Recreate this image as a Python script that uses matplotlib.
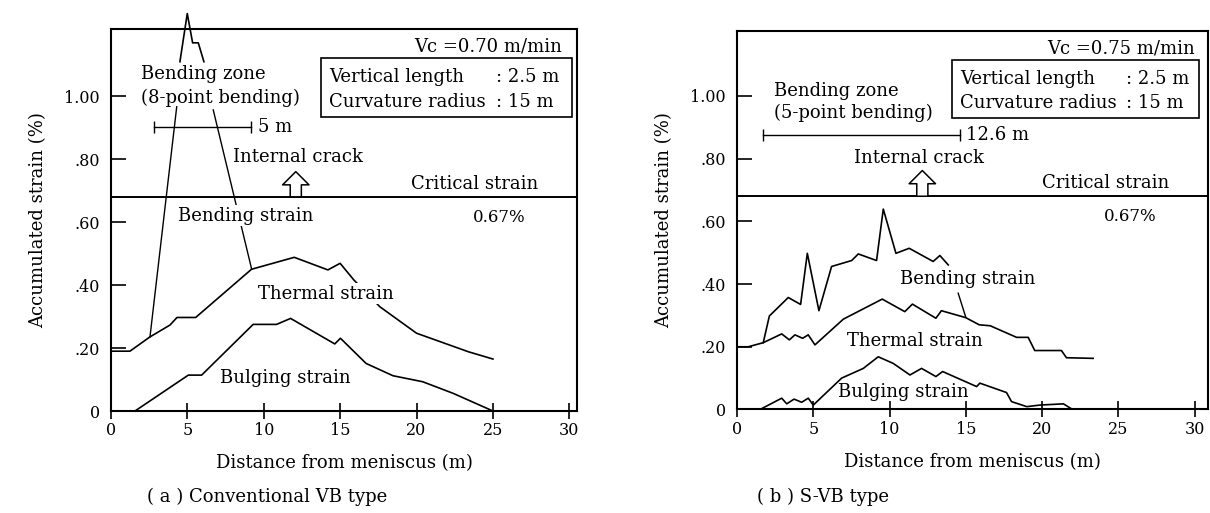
import matplotlib
matplotlib.use("Agg")
import matplotlib.pyplot as plt

plt.rcParams['font.family'] = ['DejaVu Serif']

# (a) Conventional VB type
a_thermal_x = [0, 1.25, 2.55, 3.87, 4.33, 5.55, 9.2, 12.0, 14.2, 15.0, 15.9, 17.6, 20.0, 23.4, 25.0]
a_thermal_y = [0.19, 0.19, 0.235, 0.273, 0.297, 0.297, 0.45, 0.488, 0.448, 0.469, 0.416, 0.331, 0.247, 0.188, 0.165]
a_bulging_x = [1.58, 5.07, 5.94, 9.31, 10.84, 11.76, 14.65, 15.02, 16.7, 18.46, 20.4, 22.4, 25.0]
a_bulging_y = [0, 0.114, 0.114, 0.275, 0.275, 0.294, 0.213, 0.231, 0.151, 0.112, 0.093, 0.056, 0]
a_mark_x = [4.52, 5.0, 5.35, 5.72, 6.09]
a_mark_y = [1.109, 1.262, 1.169, 1.169, 1.109]

# (b) S-VB type
b_thermal_x = [0, 0.74, 1.72, 2.93, 3.43, 3.80, 4.3, 4.67, 5.11, 6.97, 9.52, 11.0, 11.5, 13.04, 13.4,
               14.99, 15.88, 16.6, 18.33, 19.09, 19.52, 21.27, 21.6, 23.35]
b_thermal_y = [0.20, 0.20, 0.213, 0.241, 0.222, 0.238, 0.227, 0.238, 0.206, 0.288, 0.352, 0.312, 0.336, 0.291, 0.315,
               0.293, 0.27, 0.267, 0.23, 0.23, 0.188, 0.188, 0.165, 0.163]
b_bending_x = [1.72, 2.12, 3.36, 4.17, 4.61, 5.37, 6.2, 7.52, 7.95, 9.15, 9.59, 10.42, 11.29, 12.86, 13.3, 13.85]
b_bending_y = [0.213, 0.298, 0.357, 0.335, 0.498, 0.315, 0.456, 0.475, 0.496, 0.475, 0.639, 0.498, 0.514, 0.472, 0.491, 0.461]
b_bulging_x = [1.51, 2.93, 3.26, 3.74, 4.24, 4.67, 5.0, 6.86, 8.28, 9.26, 10.24, 11.34, 12.1, 13.04, 13.48,
               15.71, 15.92, 17.67, 18.0, 19.0, 19.85, 21.4, 22.0]
b_bulging_y = [0, 0.036, 0.018, 0.033, 0.023, 0.036, 0.014, 0.10, 0.131, 0.168, 0.147, 0.110, 0.131, 0.105, 0.121,
               0.073, 0.084, 0.054, 0.025, 0.009, 0.014, 0.018, 0]

crit_strain = 0.68
yticks = [0, 0.2, 0.4, 0.6, 0.8, 1.0]
ytick_labels = ['0', '.20', '.40', '.60', '.80', '1.00']
xticks = [0, 5, 10, 15, 20, 25, 30]

LW = 1.2
FS = 11.5   # tick labels
FT = 13     # annotations and axis labels


def setup(ax, xmax, ymax):
    ax.set_xlim(0, xmax)
    ax.set_ylim(0, ymax)
    ax.set_xticks(xticks)
    ax.set_yticks(yticks)
    ax.set_yticklabels(ytick_labels)
    ax.tick_params(axis='x', direction='inout', length=12, width=1.2, labelsize=FS, pad=2)
    ax.tick_params(axis='y', direction='in', length=11, width=1.2, labelsize=FS, pad=8)
    for s in ax.spines.values():
        s.set_linewidth(1.5)
    ax.set_xlabel('Distance from meniscus (m)', fontsize=FT, labelpad=11)
    ax.set_ylabel('Accumulated strain (%)', fontsize=FT, labelpad=12)
    ax.axhline(crit_strain, color='k', lw=1.4)
    ax.text(xmax - 6.7, crit_strain + 0.042, 'Critical strain', fontsize=FT, ha='center', va='center')


def param_box(ax, x0, x1, y0, y1, xt, xc, y_top, y_bot):
    ax.add_patch(plt.Rectangle((x0, y0), x1 - x0, y1 - y0, fill=False, lw=1.2, clip_on=False))
    ax.text(xt, y_top, 'Vertical length', fontsize=FT, va='center')
    ax.text(xt, y_bot, 'Curvature radius', fontsize=FT, va='center')
    ax.text(xc, y_top, ': 2.5 m', fontsize=FT, va='center')
    ax.text(xc, y_bot, ': 15 m', fontsize=FT, va='center')


def up_arrow(ax, x, y0, y1):
    ax.annotate('', xy=(x, y1), xytext=(x, y0),
                arrowprops=dict(arrowstyle='simple,head_length=0.95,head_width=1.9,tail_width=0.8',
                                mutation_scale=10, fc='white', ec='k', lw=1.1, shrinkA=0, shrinkB=0))


fig = plt.figure(figsize=(12.1, 5.13), dpi=100)
white = dict(facecolor='white', edgecolor='none', pad=1)

# ---- panel (a)
ax1 = fig.add_axes([0.0916, 0.1988, 0.3853, 0.7441])
setup(ax1, 30.5, 1.212)
ax1.plot(a_thermal_x, a_thermal_y, color='k', lw=LW)
ax1.plot(a_bulging_x, a_bulging_y, color='k', lw=LW)
ax1.plot(a_mark_x, a_mark_y, color='k', lw=LW, clip_on=False)
ax1.plot([4.31, 2.56], [0.966, 0.235], color='k', lw=1.0)
ax1.plot([6.7, 9.21], [0.956, 0.451], color='k', lw=1.0)
ax1.plot([2.84, 9.2], [0.902, 0.902], color='k', lw=1.0, marker='|', markersize=9)
ax1.text(9.6, 0.902, '5 m', fontsize=FT, va='center')
ax1.text(2.0, 1.071, 'Bending zone', fontsize=FT, va='center')
ax1.text(2.0, 0.994, '(8-point bending)', fontsize=FT, va='center')
ax1.text(12.25, 0.806, 'Internal crack', fontsize=FT, ha='center', va='center')
up_arrow(ax1, 12.1, crit_strain, 0.76)
ax1.text(8.8, 0.62, 'Bending strain', fontsize=FT, ha='center', va='center', bbox=white, zorder=5)
ax1.text(14.1, 0.373, 'Thermal strain', fontsize=FT, ha='center', va='center', bbox=white, zorder=5)
ax1.text(11.44, 0.106, 'Bulging strain', fontsize=FT, ha='center', va='center')
ax1.text(25.4, 0.613, '0.67%', fontsize=FS + 0.5, ha='center', va='center')
ax1.text(29.5, 1.157, 'Vc =0.70 m/min', fontsize=FT, ha='right', va='center')
param_box(ax1, 13.78, 30.19, 0.934, 1.12, 14.3, 25.2, 1.06, 0.982)
fig.text(0.1215, 0.031, '( a ) Conventional VB type', fontsize=FT, va='center')

# ---- panel (b)
ax2 = fig.add_axes([0.6091, 0.2018, 0.3895, 0.7384])
setup(ax2, 30.9, 1.208)
ax2.plot(b_thermal_x, b_thermal_y, color='k', lw=LW)
ax2.plot(b_bending_x, b_bending_y, color='k', lw=LW)
ax2.plot(b_bulging_x, b_bulging_y, color='k', lw=LW)
ax2.plot([14.5, 15.0], [0.371, 0.294], color='k', lw=1.0)
ax2.plot([1.72, 14.61], [0.876, 0.876], color='k', lw=1.0, marker='|', markersize=9)
ax2.text(15.0, 0.876, '12.6 m', fontsize=FT, va='center')
ax2.text(2.45, 1.016, 'Bending zone', fontsize=FT, va='center')
ax2.text(2.45, 0.945, '(5-point bending)', fontsize=FT, va='center')
ax2.text(11.93, 0.802, 'Internal crack', fontsize=FT, ha='center', va='center')
up_arrow(ax2, 12.15, crit_strain, 0.762)
ax2.text(15.1, 0.416, 'Bending strain', fontsize=FT, ha='center', va='center')
ax2.text(11.66, 0.218, 'Thermal strain', fontsize=FT, ha='center', va='center')
ax2.text(10.9, 0.056, 'Bulging strain', fontsize=FT, ha='center', va='center')
ax2.text(25.8, 0.615, '0.67%', fontsize=FS + 0.5, ha='center', va='center')
ax2.text(30.0, 1.152, 'Vc =0.75 m/min', fontsize=FT, ha='right', va='center')
param_box(ax2, 14.07, 30.3, 0.93, 1.113, 14.6, 25.5, 1.054, 0.977)
fig.text(0.626, 0.031, '( b ) S-VB type', fontsize=FT, va='center')

fig.savefig('out.png', dpi=100)
